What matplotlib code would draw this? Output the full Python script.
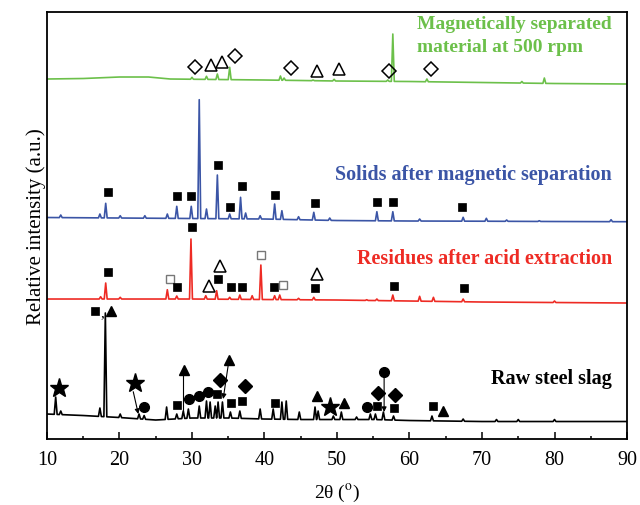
import matplotlib
matplotlib.use('Agg')
import matplotlib.pyplot as plt
import matplotlib.ticker as mticker
import numpy as np

plt.rcParams['font.family'] = ['Liberation Serif', 'DejaVu Serif']
plt.rcParams['mathtext.fontset'] = 'stix'

# ---- diffraction patterns: baseline points and peaks (2theta, relative intensity) ----
RAW_BASE_X = [10, 15, 20, 25, 30, 35, 40, 45, 50, 55, 60, 70, 80, 90]
RAW_BASE_Y = [25, 23.5, 21.5, 19, 21, 21, 20, 19.5, 19.5, 19.5, 18.5, 17.5, 17.5, 17.5]
RAW_PEAK_X = [11.2, 11.9, 17.3, 18.05, 20.1, 22.7, 23.4, 26.5, 27.9, 28.8, 29.5, 31.0,
              32.0, 32.5, 33.2, 33.6, 34.2, 35.3, 36.6, 39.4, 41.2, 42.4, 43.0, 44.8,
              46.97, 47.4, 49.5, 50.6, 52.7, 54.6, 55.3, 56.4, 57.8, 63.1, 67.4, 72.0,
              75.0, 80.0]
RAW_PEAK_Y = [42, 28, 31, 126, 25, 25, 23.5, 32, 25, 28, 30, 33,
              38, 37, 33, 37, 37, 27, 28, 30, 30, 37, 38, 27,
              32, 28, 23, 27, 22, 25, 25, 27, 23, 23, 20, 19.5,
              19.5, 19.5]

RES_BASE_X = [10, 20, 30, 40, 50, 60, 70, 80, 90]
RES_BASE_Y = [140, 140, 140, 139.5, 139, 138, 137, 136.5, 136]
RES_PEAK_X = [17.4, 18.1, 20.1, 26.6, 27.9, 29.86, 31.9, 33.4, 35.2, 36.6, 38.3, 39.5,
              41.4, 42.1, 44.7, 46.8, 54.1, 55.5, 57.7, 61.4, 63.3, 67.4, 80.0]
RES_PEAK_Y = [142.3, 156, 141.7, 149.3, 143, 200, 143.3, 148.3, 141.7, 144, 143.3, 174,
              143.3, 144, 140.7, 141.7, 139.3, 140, 144, 142.7, 141.7, 140, 138]

SOL_BASE_X = [10, 20, 30, 40, 50, 60, 70, 80, 90]
SOL_BASE_Y = [221.5, 221, 220.5, 220, 218.5, 218, 217.8, 217.5, 217.3]
SOL_PEAK_X = [11.9, 17.3, 18.1, 20.1, 23.5, 26.6, 27.9, 29.9, 31.0, 32.0, 33.5, 35.2,
              36.7, 37.4, 39.4, 41.4, 42.4, 44.7, 46.8, 49.0, 55.5, 57.7, 61.4, 67.4,
              70.6, 73.4, 77.9, 87.8]
SOL_PEAK_Y = [224, 225, 235.7, 223.3, 223.3, 225, 232.7, 232.7, 339.3, 230, 264, 225,
              241.7, 226, 223.3, 235, 228.3, 222.3, 226.7, 221, 227.3, 227.3, 220, 221.7,
              220.7, 219, 218.3, 219.3]

MAG_BASE_X = [10, 15, 20, 24, 27, 40, 50, 60, 70, 80, 90]
MAG_BASE_Y = [360, 360.5, 362, 362, 360, 359, 358, 357.5, 356.5, 355.5, 355]
MAG_PEAK_X = [30.0, 32.0, 33.5, 35.2, 42.2, 42.7, 46.7, 49.6, 57.0, 57.7, 62.4, 75.5, 78.6]
MAG_PEAK_Y = [361.7, 362.7, 365, 371.7, 363, 361, 359, 359.7, 359, 405, 360, 357.5, 361]

# ---- phase markers (kind, 2theta, height) ----
RAW_MARKS = [('star', 11.66, 51), ('sq', 16.62, 128.3), ('tri', 18.83, 128.3),
             ('star', 22.1, 56), ('circ', 23.4, 32.3), ('sq', 27.9, 34), ('tri', 28.9, 69),
             ('circ', 29.6, 40), ('circ', 30.97, 43), ('circ', 32.2, 47.3), ('sq', 33.5, 45),
             ('dia', 33.9, 59), ('tri', 35.1, 79), ('sq', 35.33, 36), ('sq', 36.85, 38.3),
             ('dia', 37.3, 53), ('sq', 41.4, 36), ('tri', 47.3, 43), ('star', 49.0, 32.3),
             ('tri', 51.0, 36.3), ('circ', 54.2, 32.3), ('sq', 55.5, 32.7), ('dia', 55.7, 45.7),
             ('circ', 56.5, 67.3), ('dia', 58.0, 44), ('sq', 57.8, 31), ('sq', 63.2, 33.3),
             ('tri', 64.6, 28)]
RES_MARKS = [('sq', 18.4, 166.7), ('osq', 26.9, 160), ('sq', 27.9, 152.3), ('sq', 29.96, 211.7),
             ('otri', 32.4, 153.3), ('otri', 33.9, 173.3), ('sq', 33.6, 160), ('sq', 35.4, 151.7),
             ('sq', 36.9, 151.7), ('osq', 39.5, 184), ('sq', 41.3, 151.7), ('osq', 42.5, 154),
             ('otri', 47.3, 165), ('sq', 46.9, 151), ('sq', 57.9, 153.3), ('sq', 67.5, 151)]
SOL_MARKS = [('sq', 18.4, 246.7), ('sq', 28.0, 243.3), ('sq', 29.86, 243.3), ('sq', 33.6, 274),
             ('sq', 35.3, 231.7), ('sq', 36.85, 252.7), ('sq', 41.5, 244), ('sq', 46.9, 235.7),
             ('sq', 55.5, 237.3), ('sq', 57.7, 237.3), ('sq', 67.3, 232.3)]
MAG_MARKS = [('odia', 30.4, 371.7), ('otri', 32.6, 374), ('otri', 34.2, 376.7),
             ('odia', 35.9, 383.3), ('odia', 43.6, 370.7), ('otri', 47.3, 368.3),
             ('otri', 50.3, 370), ('odia', 57.2, 368.3), ('odia', 63.0, 370)]

# leader lines in the raw slag pattern: (x0, y0, x1, y1)
RAW_ARROWS = [(21.9, 47.3, 22.6, 25), (35.0, 74, 34.3, 40), (56.5, 62, 56.5, 27)]
RAW_LINES = [(28.8, 63.3, 28.8, 28.3)]

MARKER_STYLE = {
    'sq': dict(marker='s', ms=5.8, mfc='k', mec='k', mew=0.5),
    'osq': dict(marker='s', ms=5.8, mfc='white', mec='#777777', mew=1.0),
    'circ': dict(marker='o', ms=7, mfc='k', mec='k'),
    'star': dict(marker='*', ms=14, mfc='k', mec='k'),
    'dia': dict(marker='D', ms=7.5, mfc='k', mec='k'),
    'odia': dict(marker='D', ms=7, mfc='none', mec='k', mew=1.1),
    'tri': dict(marker='^', ms=7, mfc='k', mec='k'),
    'otri': dict(marker='^', ms=8, mfc='none', mec='k', mew=1.1),
}

GREEN = '#6cc04a'
BLUE = '#3b55a6'
RED = '#ee2b24'


def pattern_vertices(base_x, base_y, peak_x, peak_y, half_w=0.2):
    """Line through the baseline with a narrow spike at every peak."""
    pts = [(bx, by) for bx, by in zip(base_x, base_y)
           if all(abs(bx - px) > half_w for px in peak_x)]
    for px, py in zip(peak_x, peak_y):
        for dx in (-half_w, half_w):
            pts.append((px + dx, float(np.interp(px + dx, base_x, base_y))))
        pts.append((px, py))
    pts.sort()
    return [p[0] for p in pts], [p[1] for p in pts]


fig = plt.figure(figsize=(6.4, 5.06), dpi=100)
ax = fig.add_axes([0.0734, 0.1304, 0.9063, 0.8439])

for bx, by, px, py, col in [(RAW_BASE_X, RAW_BASE_Y, RAW_PEAK_X, RAW_PEAK_Y, 'black'),
                            (RES_BASE_X, RES_BASE_Y, RES_PEAK_X, RES_PEAK_Y, RED),
                            (SOL_BASE_X, SOL_BASE_Y, SOL_PEAK_X, SOL_PEAK_Y, BLUE),
                            (MAG_BASE_X, MAG_BASE_Y, MAG_PEAK_X, MAG_PEAK_Y, GREEN)]:
    xs, ys = pattern_vertices(bx, by, px, py)
    ax.plot(xs, ys, color=col, lw=1.2)

for marks in (RAW_MARKS, RES_MARKS, SOL_MARKS, MAG_MARKS):
    for kind, mx, my in marks:
        ax.plot(mx, my, ls='none', zorder=5, **MARKER_STYLE[kind])

ax.text(17.65, 126, ',', ha='center', va='center', fontsize=11)

for x0, y0, x1, y1 in RAW_ARROWS:
    ax.annotate('', xy=(x1, y1), xytext=(x0, y0),
                arrowprops=dict(arrowstyle='-|>', color='k', lw=0.8, mutation_scale=7,
                                shrinkA=0, shrinkB=0))
for x0, y0, x1, y1 in RAW_LINES:
    ax.plot([x0, x1], [y0, y1], color='k', lw=0.8)

ax.text(61.1, 404, 'Magnetically separated\nmaterial at 500 rpm', color=GREEN,
        fontsize=14, fontweight='bold', ha='left', va='center', linespacing=1.5)
ax.text(87.9, 265, 'Solids after magnetic separation', color=BLUE, fontsize=14.5,
        fontweight='bold', ha='right', va='center')
ax.text(87.9, 181, 'Residues after acid extraction', color=RED, fontsize=14.5,
        fontweight='bold', ha='right', va='center')
ax.text(87.9, 61, 'Raw steel slag', color='black', fontsize=14.5,
        fontweight='bold', ha='right', va='center')

ax.set_xlim(10, 90)
ax.set_ylim(0, 427)
ax.xaxis.set_major_locator(mticker.MultipleLocator(10))
ax.xaxis.set_minor_locator(mticker.MultipleLocator(5))
ax.tick_params(axis='x', which='major', direction='in', length=5, width=1.1, labelsize=14.5, pad=8)
ax.tick_params(axis='x', which='minor', direction='in', length=2.5, width=1.1)
ax.set_yticks([])
for sp in ax.spines.values():
    sp.set_linewidth(1.3)
ax.set_xlabel(r'2θ ($^{\rm o}$)', fontsize=14, labelpad=9)
ax.set_ylabel('Relative intensity (a.u.)', fontsize=15, labelpad=1)

fig.savefig('out.png', dpi=100)
